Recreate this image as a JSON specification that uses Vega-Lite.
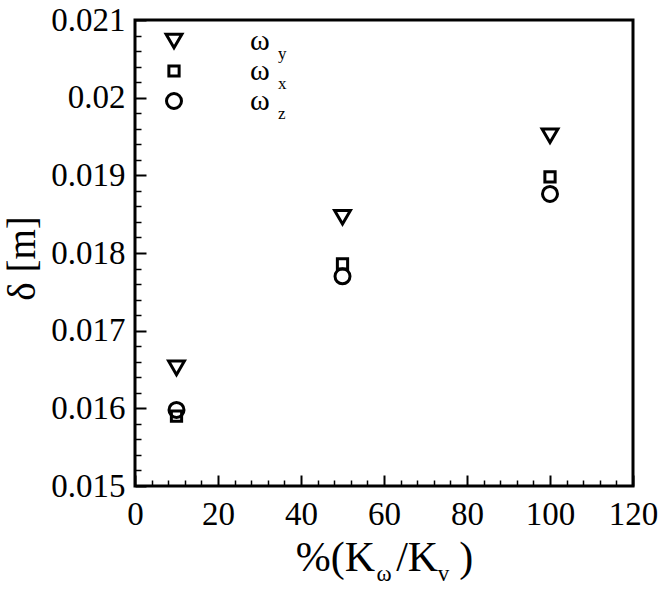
{
  "$schema": "https://vega.github.io/schema/vega-lite/v6.json",
  "width": 498,
  "height": 466,
  "autosize": "none",
  "padding": {"left": 135, "top": 20, "right": 31, "bottom": 105},
  "background": "white",
  "config": {
    "font": "Liberation Serif",
    "view": {"stroke": "black", "strokeWidth": 3},
    "axis": {
      "grid": false,
      "domain": false,
      "ticks": true,
      "tickColor": "black",
      "tickOpacity": 1,
      "labelColor": "black",
      "titleColor": "black",
      "labelFont": "Liberation Serif",
      "titleFont": "Liberation Serif",
      "titleFontWeight": "normal"
    },
    "legend": {"labelFont": "Liberation Serif", "labelColor": "black"}
  },
  "data": {
    "values": [
      {"x": 10, "series": "ωy", "sub": "y", "delta": 0.01652},
      {"x": 10, "series": "ωx", "sub": "x", "delta": 0.0159},
      {"x": 10, "series": "ωz", "sub": "z", "delta": 0.01598},
      {"x": 50, "series": "ωy", "sub": "y", "delta": 0.01846},
      {"x": 50, "series": "ωx", "sub": "x", "delta": 0.01786},
      {"x": 50, "series": "ωz", "sub": "z", "delta": 0.0177},
      {"x": 100, "series": "ωy", "sub": "y", "delta": 0.01951},
      {"x": 100, "series": "ωx", "sub": "x", "delta": 0.01898},
      {"x": 100, "series": "ωz", "sub": "z", "delta": 0.01876}
    ]
  },
  "layer": [
    {
      "mark": {"type": "point", "opacity": 0},
      "encoding": {
        "x": {
          "field": "x", "type": "quantitative",
          "scale": {"domain": [0, 120], "nice": false, "zero": false},
          "axis": {
            "orient": "bottom", "offset": -6, "tickSize": 6, "tickWidth": 1.5,
            "values": [4, 8, 12, 16, 24, 28, 32, 36, 44, 48, 52, 56, 64, 68, 72, 76, 84, 88, 92, 96, 104, 108, 112, 116],
            "labels": false,
            "title": "ω\u00a0\u00a0\u00a0\u00a0\u00a0\u00a0\u00a0\u00a0v", "titleFontSize": 23, "titleX": 241, "titleY": 100,
            "titleAlign": "left", "titleBaseline": "alphabetic"
          }
        },
        "y": {
          "field": "delta", "type": "quantitative",
          "scale": {"domain": [0.015, 0.021], "nice": false, "zero": false},
          "axis": {
            "orient": "left", "offset": -6, "tickSize": 6, "tickWidth": 1.5,
            "values": [0.0152, 0.0154, 0.0156, 0.0158, 0.0162, 0.0164, 0.0166, 0.0168, 0.0172, 0.0174, 0.0176, 0.0178, 0.0182, 0.0184, 0.0186, 0.0188, 0.0192, 0.0194, 0.0196, 0.0198, 0.0202, 0.0204, 0.0206, 0.0208],
            "labels": false, "title": null
          }
        }
      }
    },
    {
      "mark": {"type": "point", "filled": false, "strokeWidth": 3, "opacity": 1},
      "encoding": {
        "x": {
          "field": "x", "type": "quantitative",
          "scale": {"domain": [0, 120], "nice": false, "zero": false},
          "axis": {
            "orient": "bottom", "offset": -11, "tickSize": 11, "tickWidth": 2,
            "values": [0, 20, 40, 60, 80, 100, 120],
            "labelPadding": 12, "labelFontSize": 33,
            "labelFlush": false, "labelOverlap": false,
            "title": "%(K\u00a0\u00a0/K\u00a0\u00a0)", "titleFontSize": 42, "titleX": 249, "titleY": 95,
            "titleAlign": "center", "titleBaseline": "alphabetic"
          }
        },
        "y": {
          "field": "delta", "type": "quantitative",
          "scale": {"domain": [0.015, 0.021], "nice": false, "zero": false},
          "axis": {
            "orient": "left", "offset": -11, "tickSize": 11, "tickWidth": 2,
            "values": [0.015, 0.016, 0.017, 0.018, 0.019, 0.02, 0.021],
            "format": ".3~f",
            "labelPadding": 10, "labelFontSize": 33,
            "labelFlush": false, "labelOverlap": false,
            "title": "δ [m]", "titleFontSize": 39, "titleX": -124, "titleY": 238,
            "titleAngle": -90, "titleAlign": "center", "titleBaseline": "middle"
          }
        },
        "shape": {
          "field": "series", "type": "nominal",
          "scale": {"domain": ["ωy", "ωx", "ωz"], "range": ["triangle-down", "square", "circle"]},
          "legend": {
            "orient": "none", "legendX": 24, "legendY": 6, "title": null, "padding": 0,
            "labelExpr": "'ω'", "labelFontSize": 30, "labelOffset": 61, "rowPadding": -1,
            "symbolStrokeWidth": 3, "symbolStrokeColor": "black"
          }
        },
        "size": {
          "field": "series", "type": "nominal",
          "scale": {"type": "ordinal", "domain": ["ωy", "ωx", "ωz"], "range": [250, 105, 225]},
          "legend": {
            "orient": "none", "legendX": 24, "legendY": 6, "title": null, "padding": 0,
            "labelExpr": "'ω'", "labelFontSize": 30, "labelOffset": 61, "rowPadding": -1,
            "symbolStrokeWidth": 3, "symbolStrokeColor": "black"
          }
        },
        "color": {
          "field": "sub", "type": "nominal",
          "scale": {"domain": ["y", "x", "z"], "range": ["black", "black", "black"]},
          "legend": {
            "orient": "none", "legendX": 126, "legendY": 25, "title": null, "padding": 0,
            "labelFontSize": 17, "labelOffset": 0, "rowPadding": 12,
            "symbolOpacity": 0, "symbolSize": 4, "symbolType": "circle"
          }
        }
      }
    }
  ],
  "resolve": {"axis": {"x": "independent", "y": "independent"}}
}
